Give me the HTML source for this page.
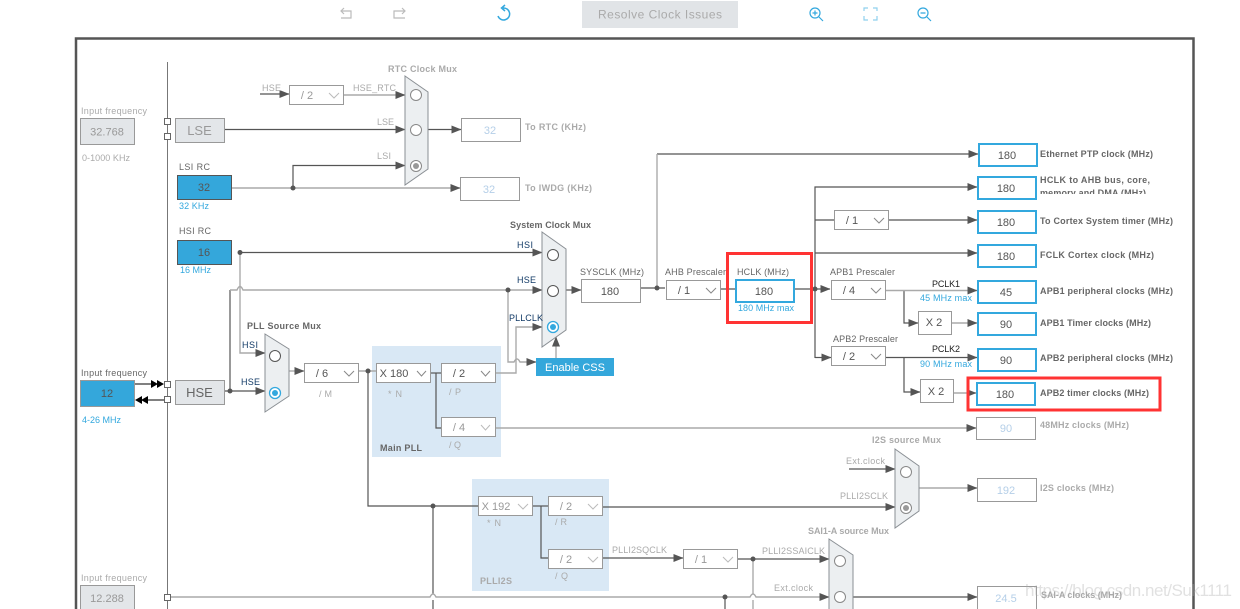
<!DOCTYPE html>
<html><head><meta charset="utf-8"><style>
html,body{margin:0;padding:0;background:#fff;width:1240px;height:609px;overflow:hidden}
svg{display:block}
text{font-family:"Liberation Sans",sans-serif;font-size:9px;fill:#666}
.g{fill:#aaa}.b{font-weight:bold;fill:#666}.bg{font-weight:bold;fill:#aaa}
.c{fill:#33a8de}.v{font-size:11px;text-anchor:middle;fill:#555}.vg{font-size:11px;text-anchor:middle;fill:#999}
.vb{font-size:11px;text-anchor:middle;fill:#b5cfe8}.n{fill:#123a66}
.d{fill:none;stroke:#555;stroke-width:1.2}.l{fill:none;stroke:#aaa;stroke-width:1.4}
.s{fill:#fff;stroke:#999;stroke-width:1}.o{fill:#fff;stroke:#33a8de;stroke-width:2}
.m{fill:#eceff1;stroke:#8a8f94;stroke-width:1}.ci{fill:#fff;stroke:#888;stroke-width:1}
.ch{fill:none;stroke:#888;stroke-width:1}.chg{fill:none;stroke:#bbb;stroke-width:1}
.blue{fill:#34a7db;stroke:#555;stroke-width:1}.gr{fill:#e3e6e9;stroke:#999;stroke-width:1}
.r{fill:none;stroke:#f33;stroke-width:3}.t{fill:none;stroke:#33a8de;stroke-width:1.2}.tg{fill:none;stroke:#bbb;stroke-width:1.4}
</style></head><body>
<svg width="1240" height="609" viewBox="0 0 1240 609" xmlns="http://www.w3.org/2000/svg">
<defs>
<marker id="a" markerUnits="userSpaceOnUse" markerWidth="10" markerHeight="8" refX="9.5" refY="4" orient="auto"><path d="M0 0L10 4L0 8Z" fill="#555"/></marker>
<clipPath id="cl"><rect x="1038" y="170" width="130" height="24"/></clipPath>
</defs>

<!-- toolbar -->
<g class="tg">
<path d="M341 11H351V18H341M344 8L341 11L344 14" stroke-width="1.2"/>
<path d="M405 11H394V18H405M402 8L405 11L402 14" stroke-width="1.2"/>
</g>
<path d="M503 8A6 6 0 1 1 498 16M505 5L501.5 8L505 11" class="t" style="stroke-width:1.5"/>
<rect x="582" y="1" width="156" height="27" fill="#e1e4e7"/>
<text x="598" y="18.5" style="font-size:12px" textLength="124" class="g">Resolve Clock Issues</text>
<circle cx="815" cy="13" r="5" class="t"/><path d="M819 17L823 21M812.5 13H817.5M815 10.5V15.5" class="t"/>
<path d="M864 11V8H868M873 8H877V11M877 16V20H873M868 20H864V16" class="t" style="stroke:#8fd0ee"/>
<circle cx="923" cy="13" r="5" class="t"/><path d="M927 17L931 21M920.5 13H925.5" class="t"/>

<!-- frame -->
<path d="M76 609V38.5H1193.5V609" fill="none" stroke="#555" stroke-width="2.5"/>
<line x1="167.5" y1="62" x2="167.5" y2="609" stroke="#777" stroke-width="1"/>

<!-- light blue PLL backgrounds -->
<rect x="372" y="346" width="129" height="111" fill="#d9e8f5"/>
<rect x="472" y="479" width="137" height="112" fill="#d9e8f5"/>

<!-- connectors -->
<g class="d">
<path d="M260 94H289" marker-end="url(#a)"/>
<path d="M225 129.500H405" marker-end="url(#a)"/>
<path d="M428 129.500H461" marker-end="url(#a)"/>
<path d="M293 188V165.500H405" marker-end="url(#a)"/>
<path d="M240 252.500H542" marker-end="url(#a)"/>
<path d="M230 391V290"/>
<path d="M225 391H265" marker-end="url(#a)"/>
<path d="M368 371V506H479"/>
<path d="M433 506V594M433 600V609"/>
<path d="M541 506V558H548"/>
<path d="M532 506H548"/>
<path d="M430 373H441"/>
<path d="M436 373V428H441"/>
<path d="M602 507H895" marker-end="url(#a)"/>
<path d="M849 469H895" marker-end="url(#a)"/>
<path d="M602 558H683" marker-end="url(#a)"/>
<path d="M738 559H829" marker-end="url(#a)"/>
<path d="M725 597V609"/>
<path d="M853 597H977" marker-end="url(#a)"/>
<path d="M657 154H978" marker-end="url(#a)"/>
<path d="M640 288H665M721 289H736"/>
<path d="M794 289H830" marker-end="url(#a)"/>
<path d="M815 358V187H977" marker-end="url(#a)"/>
<path d="M815 220H834M889 220H977" marker-end="url(#a)"/>
<path d="M815 253H977" marker-end="url(#a)"/>
<path d="M815 357.500H831" marker-end="url(#a)"/>
<path d="M904 291V323H918" marker-end="url(#a)"/>
<path d="M886 357.500H977" marker-end="url(#a)"/>
<path d="M904 358V392H920" marker-end="url(#a)"/>
<path d="M566 290H581" marker-end="url(#a)"/>
</g>
<g class="l">
<path d="M343 95H405" marker-end="url(#a)"/>
<path d="M231 188H460" marker-end="url(#a)"/>
<path d="M240 252V353H265" marker-end="url(#a)"/>
<path d="M230 290H237Q240 283 243 290H542" marker-end="url(#a)"/>
<path d="M508 290V362H514Q517 356 520 362H536" marker-end="url(#a)"/>
<path d="M495 373H516V327H542" marker-end="url(#a)"/>
<path d="M556 358V337" marker-end="url(#a)"/>
<path d="M289 371H304" marker-end="url(#a)"/>
<path d="M358 371H376"/>
<path d="M495 428H976" marker-end="url(#a)"/>
<path d="M167 597H430Q433 591 436 597H750Q753 591 756 597H829" marker-end="url(#a)"/>
<path d="M753 559V594M753 600V609"/>
<path d="M919 488H977" marker-end="url(#a)"/>
<path d="M886 290.500H977" marker-end="url(#a)"/>
<path d="M952 323H977" marker-end="url(#a)"/>
<path d="M954 393H976" marker-end="url(#a)"/>
<path d="M657 154V288"/>
</g>
<path d="M134 384H152M147 400H165" stroke="#000" stroke-width="1" fill="none"/>
<path d="M151 380L158 384L151 388ZM157 380L164 384L157 388Z" fill="#000"/>
<path d="M142 396L135 400L142 404ZM148 396L141 400L148 404Z" fill="#000"/>

<!-- dots -->
<g fill="#555">
<circle cx="293" cy="188" r="2.5"/><circle cx="240" cy="252.500" r="2.5"/><circle cx="230" cy="391" r="2.5"/>
<circle cx="368" cy="371" r="2.5"/><circle cx="433" cy="506" r="2.5"/><circle cx="508" cy="290" r="2.5"/>
<circle cx="657" cy="288" r="2.5"/><circle cx="815" cy="289" r="2.5"/><circle cx="753" cy="559" r="2.5"/><circle cx="725" cy="597" r="2.5"/>
</g>

<!-- squares on input bus -->
<g fill="#fff" stroke="#666" stroke-width="1">
<rect x="164.500" y="118.500" width="6" height="6"/><rect x="164.500" y="133.500" width="6" height="6"/>
<rect x="164.500" y="381.500" width="6" height="6"/><rect x="164.500" y="396.500" width="6" height="6"/>
<rect x="164.500" y="594.500" width="6" height="6"/>
</g>

<!-- muxes -->
<path class="m" d="M405 76L428 92V169L405 185Z"/>
<circle class="ci" cx="416" cy="95" r="5.500"/><circle class="ci" cx="416" cy="130" r="5.500"/><circle class="ci" cx="416" cy="166" r="5.500"/><circle cx="416" cy="166" r="3" fill="#999"/>
<path class="m" d="M265 334L289 349V396L265 412Z"/>
<circle cx="275" cy="356" r="5.500" fill="#fff" stroke="#555"/><circle cx="275" cy="393" r="5.500" fill="#fff" stroke="#33a8de" stroke-width="1.300"/><circle cx="275" cy="393" r="3" fill="#33a8de"/>
<path class="m" d="M542 232L566 249V330L542 347Z"/>
<circle cx="553" cy="255" r="5.500" fill="#fff" stroke="#555"/><circle cx="553" cy="291" r="5.500" fill="#fff" stroke="#555"/><circle cx="553" cy="327" r="5.500" fill="#fff" stroke="#33a8de" stroke-width="1.300"/><circle cx="553" cy="327" r="3" fill="#33a8de"/>
<path class="m" d="M895 449L919 466V511L895 528Z"/>
<circle class="ci" cx="906" cy="472" r="5.500"/><circle class="ci" cx="906" cy="508" r="5.500"/><circle cx="906" cy="508" r="3" fill="#999"/>
<path class="m" d="M829 539L853 555V620H829Z"/>
<circle class="ci" cx="840" cy="561" r="5.500"/><circle class="ci" cx="840" cy="597" r="5.500"/>

<!-- input boxes -->
<rect class="gr" x="80.500" y="118.500" width="54" height="26"/>
<text class="vg" x="107" y="135.500">32.768</text>
<text class="g" x="81" y="114" textLength="66">Input frequency</text>
<text class="g" x="82" y="161" textLength="48">0-1000 KHz</text>
<rect class="gr" x="175.500" y="118.500" width="49" height="24"/><text x="199.500" y="135" style="font-size:13px;text-anchor:middle;fill:#999">LSE</text>
<rect class="blue" x="177.500" y="175.500" width="54" height="24"/><text class="v" x="204" y="191">32</text>
<text x="179" y="170" textLength="31">LSI RC</text><text class="c" x="179" y="209" textLength="30">32 KHz</text>
<rect class="blue" x="177.500" y="240.500" width="54" height="24"/><text class="v" x="204" y="256">16</text>
<text x="179" y="234" textLength="32">HSI RC</text><text class="c" x="180" y="273" textLength="31">16 MHz</text>
<rect x="80.500" y="380.500" width="54" height="26" fill="#34a7db" stroke="#999"/><text class="v" x="107" y="397">12</text>
<text x="81" y="376" textLength="66">Input frequency</text><text class="c" x="82" y="423" textLength="39">4-26 MHz</text>
<rect class="gr" x="175.500" y="380.500" width="49" height="24"/><text x="199.500" y="397" style="font-size:13px;text-anchor:middle;fill:#666">HSE</text>
<text class="g" x="81" y="581" textLength="66">Input frequency</text>
<rect class="gr" x="80.500" y="585.500" width="54" height="26"/><text class="vg" x="107" y="602">12.288</text>

<!-- selects -->
<g>
<rect class="s" x="289.500" y="85.500" width="54" height="19"/><text class="vg" x="307" y="99">/ 2</text><path class="chg" d="M329 93L334 98L339 93"/>
<rect class="s" x="304.500" y="363.500" width="54" height="19"/><text class="v" x="322" y="377">/ 6</text><path class="ch" d="M344 371L349 376L354 371"/>
<rect class="s" x="376.500" y="363.500" width="54" height="19"/><text class="v" x="394" y="377">X 180</text><path class="ch" d="M417 371L421.500 376L426 371"/>
<rect class="s" x="441.500" y="363.500" width="54" height="19"/><text class="v" x="459" y="377">/ 2</text><path class="ch" d="M481 371L485.500 376L490 371"/>
<rect class="s" x="441.500" y="417.500" width="54" height="19"/><text class="vg" x="459" y="431">/ 4</text><path class="chg" d="M481 425L485.500 430L490 425"/>
<rect class="s" x="478.500" y="496.500" width="54" height="19"/><text class="vg" x="496" y="510">X 192</text><path class="chg" d="M518 504L523 509L528 504"/>
<rect class="s" x="548.500" y="496.500" width="54" height="19"/><text class="vg" x="566" y="510">/ 2</text><path class="chg" d="M588 504L593 509L598 504"/>
<rect class="s" x="548.500" y="549.500" width="54" height="19"/><text class="vg" x="566" y="563">/ 2</text><path class="chg" d="M588 557L593 562L598 557"/>
<rect class="s" x="683.500" y="549.500" width="54" height="19"/><text class="vg" x="701" y="563">/ 1</text><path class="chg" d="M723 557L728 562L733 557"/>
<rect class="s" x="666.500" y="280.500" width="54" height="19"/><text class="v" x="684" y="294">/ 1</text><path class="ch" d="M706 288L711 293L716 288"/>
<rect class="s" x="834.500" y="210.500" width="54" height="19"/><text class="v" x="852" y="224">/ 1</text><path class="ch" d="M874 218L879 223L884 218"/>
<rect class="s" x="831.500" y="280.500" width="54" height="19"/><text class="v" x="849" y="294">/ 4</text><path class="ch" d="M871 288L876 293L881 288"/>
<rect class="s" x="831.500" y="346.500" width="54" height="19"/><text class="v" x="849" y="360">/ 2</text><path class="ch" d="M871 354L876 359L881 354"/>
</g>

<!-- plain boxes -->
<rect class="s" x="461.500" y="118.500" width="59" height="23"/><text class="vb" x="490" y="134">32</text>
<rect class="s" x="460.500" y="177.500" width="59" height="23"/><text class="vb" x="489" y="193">32</text>
<rect class="s" x="581.500" y="279.500" width="59" height="23"/><text class="v" x="610" y="295">180</text>
<rect class="s" x="918.500" y="311.500" width="33" height="23"/><text class="v" x="934" y="326">X 2</text>
<rect class="s" x="920.500" y="379.500" width="33" height="23"/><text class="v" x="936" y="395">X 2</text>
<rect class="s" x="976.500" y="417.500" width="59" height="22"/><text class="vb" x="1006" y="432">90</text>
<rect class="s" x="977.500" y="478.500" width="59" height="23"/><text class="vb" x="1006" y="494">192</text>
<rect class="s" x="977.500" y="586.500" width="59" height="30"/><text class="vb" x="1006" y="602">24.5</text>
<rect x="536" y="358" width="78" height="18" fill="#34a7db"/><text x="575" y="371" style="font-size:11px;text-anchor:middle;fill:#fff">Enable CSS</text>

<!-- blue output boxes -->
<rect class="o" x="736" y="280" width="58" height="22"/><text class="v" x="764" y="295">180</text>
<rect class="o" x="979" y="144" width="58" height="22"/><text class="v" x="1007" y="159">180</text>
<rect class="o" x="978" y="177" width="58" height="22"/><text class="v" x="1006" y="192">180</text>
<rect class="o" x="978" y="211" width="58" height="22"/><text class="v" x="1006" y="226">180</text>
<rect class="o" x="978" y="245" width="58" height="22"/><text class="v" x="1006" y="260">180</text>
<rect class="o" x="978" y="281" width="58" height="22"/><text class="v" x="1006" y="296">45</text>
<rect class="o" x="978" y="313" width="58" height="22"/><text class="v" x="1006" y="328">90</text>
<rect class="o" x="978" y="349" width="58" height="22"/><text class="v" x="1006" y="364">90</text>
<rect class="o" x="977" y="383" width="58" height="22"/><text class="v" x="1005" y="398">180</text>

<!-- red highlights -->
<rect class="r" x="727.500" y="253.500" width="84" height="69"/>
<rect class="r" x="968" y="378" width="192" height="32"/>

<!-- labels -->
<text class="bg" x="388" y="72" textLength="69">RTC Clock Mux</text>
<text class="g" x="262" y="91" textLength="19">HSE</text>
<text class="g" x="353" y="91" textLength="43">HSE_RTC</text>
<text class="g" x="377" y="125" textLength="17">LSE</text>
<text class="g" x="377" y="159" textLength="14">LSI</text>
<text class="bg" x="525" y="130" textLength="61">To RTC (KHz)</text>
<text class="bg" x="525" y="191" textLength="67">To IWDG (KHz)</text>
<text class="b" x="510" y="228" textLength="81">System Clock Mux</text>
<text class="n" x="517" y="248" textLength="16">HSI</text>
<text class="n" x="517" y="283" textLength="19">HSE</text>
<text class="n" x="509" y="321" textLength="34">PLLCLK</text>
<text class="b" x="247" y="329" textLength="74">PLL Source Mux</text>
<text class="n" x="242" y="348" textLength="16">HSI</text>
<text class="n" x="241" y="385" textLength="19">HSE</text>
<text class="g" x="319" y="397" textLength="13">/ M</text>
<text class="g" x="388" y="397" textLength="14">* N</text>
<text class="g" x="449" y="395" textLength="12">/ P</text>
<text class="g" x="449" y="448" textLength="12">/ Q</text>
<text class="b" x="380" y="451" textLength="42">Main PLL</text>
<text class="g" x="487" y="526" textLength="14">* N</text>
<text class="g" x="555" y="525" textLength="12">/ R</text>
<text class="g" x="555" y="579" textLength="13">/ Q</text>
<text class="bg" x="480" y="584" textLength="32">PLLI2S</text>
<text class="g" x="612" y="553" textLength="55">PLLI2SQCLK</text>
<text class="g" x="762" y="554" textLength="63">PLLI2SSAICLK</text>
<text class="g" x="774" y="591" textLength="39">Ext.clock</text>
<text class="g" x="846" y="464" textLength="39">Ext.clock</text>
<text class="g" x="840" y="499" textLength="48">PLLI2SCLK</text>
<text class="bg" x="872" y="443" textLength="69">I2S source Mux</text>
<text class="bg" x="808" y="534" textLength="81">SAI1-A source Mux</text>
<text x="580" y="275" textLength="64">SYSCLK (MHz)</text>
<text x="665" y="275" textLength="61">AHB Prescaler</text>
<text x="737" y="275" textLength="52">HCLK (MHz)</text>
<text class="c" x="738" y="311" textLength="56">180 MHz max</text>
<text x="830" y="275" textLength="65">APB1 Prescaler</text>
<text x="833" y="342" textLength="65">APB2 Prescaler</text>
<text x="932" y="287" textLength="28" style="fill:#222">PCLK1</text>
<text x="932" y="352" textLength="28" style="fill:#222">PCLK2</text>
<text class="c" x="920" y="301" textLength="52">45 MHz max</text>
<text class="c" x="920" y="367" textLength="52">90 MHz max</text>
<text class="b" x="1040" y="157" textLength="113">Ethernet PTP clock (MHz)</text>
<text class="b" x="1040" y="183" textLength="110">HCLK to AHB bus, core,</text>
<text class="b" x="1040" y="196" textLength="106" clip-path="url(#cl)">memory and DMA (MHz)</text>
<text class="b" x="1040" y="224" textLength="133">To Cortex System timer (MHz)</text>
<text class="b" x="1040" y="258" textLength="114">FCLK Cortex clock (MHz)</text>
<text class="b" x="1040" y="294" textLength="133">APB1 peripheral clocks (MHz)</text>
<text class="b" x="1040" y="326" textLength="111">APB1 Timer clocks (MHz)</text>
<text class="b" x="1040" y="361" textLength="133">APB2 peripheral clocks (MHz)</text>
<text class="b" x="1040" y="396" textLength="109">APB2 timer clocks (MHz)</text>
<text class="bg" x="1040" y="428" textLength="89">48MHz clocks (MHz)</text>
<text class="bg" x="1040" y="491" textLength="74">I2S clocks (MHz)</text>
<text class="bg" x="1041" y="598" textLength="81">SAI-A clocks (MHz)</text>
<text x="1025" y="596" textLength="207" style="font-size:17px;fill:#aaa;fill-opacity:.35">https://blog.csdn.net/Suk1111</text>
</svg>
</body></html>
